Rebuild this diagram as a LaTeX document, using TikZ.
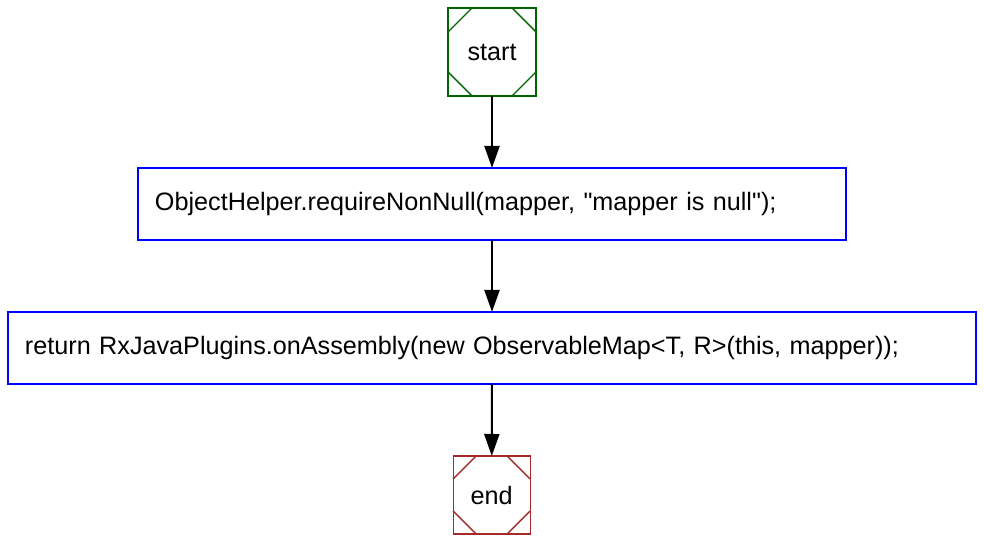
\documentclass[tikz,border=0pt]{standalone}
\usepackage{fontspec}
\setmainfont{Liberation Sans}
\usetikzlibrary{arrows.meta, positioning}
\definecolor{startgreen}{RGB}{0,100,0}
\definecolor{endred}{RGB}{165,42,42}
\definecolor{stmtblue}{RGB}{0,0,255}

\begin{document}
\begin{tikzpicture}[x=1bp, y=1bp, font=\fontsize{25.2bp}{30bp}\selectfont]
    \tikzstyle{terminal}=[draw, line width=1.4bp, inner sep=0pt, outer sep=0pt]
    \tikzstyle{start terminal}=[terminal, draw=startgreen, minimum size=88bp]
    \tikzstyle{end terminal}=[terminal, draw=endred, minimum width=77bp, minimum height=78bp]
    \tikzstyle{stmt}=[draw=stmtblue, line width=1.4bp, minimum height=72bp, inner xsep=17bp, inner ysep=0pt, outer sep=0pt, align=left]
    \tikzstyle{flow}=[-{Triangle[length=22bp, width=15bp]}, line width=2bp, black]

    \useasboundingbox (0,0) rectangle (984,544);

	\node[start terminal] (start) at (492,492) {start};
	\node[stmt, text width=674bp] (S-1) at (492,340) {ObjectHelper.requireNonNull(mapper, \textquotedbl mapper is null\textquotedbl);};
	\node[stmt, text width=934bp] (S-2) at (492,196) {return RxJavaPlugins.onAssembly(new ObservableMap<T, R>(this, mapper));};
	\node[end terminal] (end) at (491.7,49) {end};

	% cut corners
	\foreach \n/\c/\d in {start/startgreen/24, end/endred/23}{
		\draw[\c, line width=1.4bp] ([xshift=\d bp]\n.north west) -- ([yshift=-\d bp]\n.north west);
		\draw[\c, line width=1.4bp] ([xshift=-\d bp]\n.north east) -- ([yshift=-\d bp]\n.north east);
		\draw[\c, line width=1.4bp] ([xshift=\d bp]\n.south west) -- ([yshift=\d bp]\n.south west);
		\draw[\c, line width=1.4bp] ([xshift=-\d bp]\n.south east) -- ([yshift=\d bp]\n.south east);
		}

	\draw[flow] (start) -- (S-1);
	\draw[flow] (S-1) -- (S-2);
	\draw[flow] (S-2) -- (end);
\end{tikzpicture}
\end{document}
